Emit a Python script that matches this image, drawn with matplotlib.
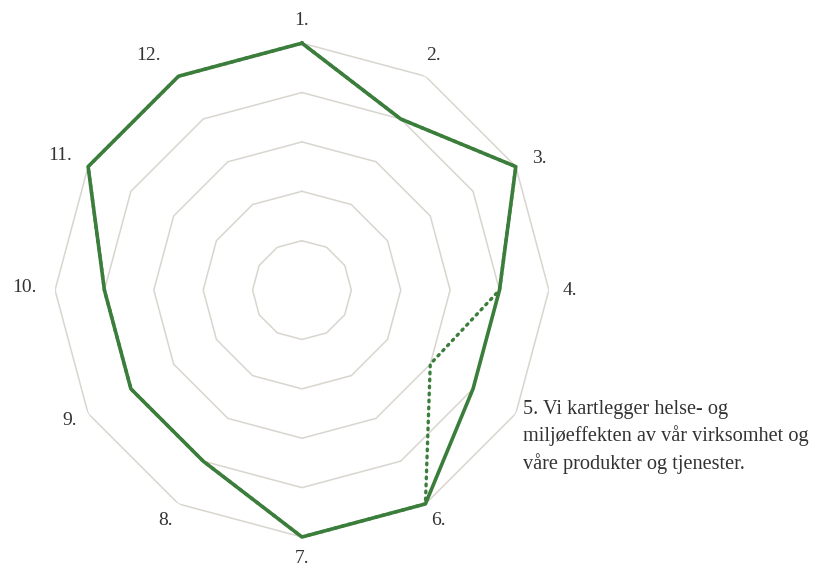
import numpy as np
import matplotlib.pyplot as plt

# Statements 1-12, only number 5 has a full label.
labels = ['1.', '2.', '3.', '4.',
          '5. Vi kartlegger helse- og\nmiljøeffekten av vår virksomhet og\nvåre produkter og tjenester.',
          '6.', '7.', '8.', '9.', '10.', '11.', '12.']
# Two series: solid one on top, dotted one only shows where it differs.
solid_values = [5, 4, 5, 4, 4, 5, 5, 4, 4, 4, 5, 5]
dotted_values = [5, 4, 5, 4, 3, 5, 5, 4, 4, 4, 5, 5]
ring_levels = [1, 2, 3, 4, 5]

green = '#3b7d3b'
grid_color = '#d9d5cf'
text_color = '#333333'

# small nudges (pixels) so the labels sit like the original ones
label_nudge = [(0, 0), (-3, 1), (4, -3), (-1, 0), (-12, -12), (2, 3),
               (0, 1), (-2, 3), (1, 4), (-8, 3), (-9, 0), (-19, 1)]

n = len(labels)
angles = np.linspace(0, 2 * np.pi, n, endpoint=False)
closed = np.append(angles, angles[0])

fig = plt.figure(figsize=(8.15, 5.67), dpi=100)
ax = fig.add_axes([0.0675, 0.0529, 0.606, 0.871], polar=True)
ax.set_theta_zero_location('N')
ax.set_theta_direction(-1)
ax.set_ylim(0, 5)
ax.axis('off')

# Dodecagon rings instead of circles.
for lvl in ring_levels:
    ax.plot(closed, [lvl] * (n + 1), color=grid_color, linewidth=1.1, zorder=1)

ax.plot(closed, dotted_values + dotted_values[:1], color=green, linewidth=2.4,
        linestyle=(0, (0.5, 1.6)), dash_capstyle='round', zorder=2)
ax.plot(closed, solid_values + solid_values[:1], color=green, linewidth=2.6,
        zorder=3, clip_on=False)

for i, (a, lab) in enumerate(zip(angles, labels)):
    ha = 'left' if i == 4 else 'center'
    size = 14.6 if i == 4 else 14
    ax.annotate(lab, xy=(a, 5.45), xytext=label_nudge[i],
                textcoords='offset pixels', ha=ha, va='center',
                fontsize=size, family='Liberation Serif', color=text_color,
                linespacing=1.42, annotation_clip=False)

fig.savefig('out.png', dpi=100)
